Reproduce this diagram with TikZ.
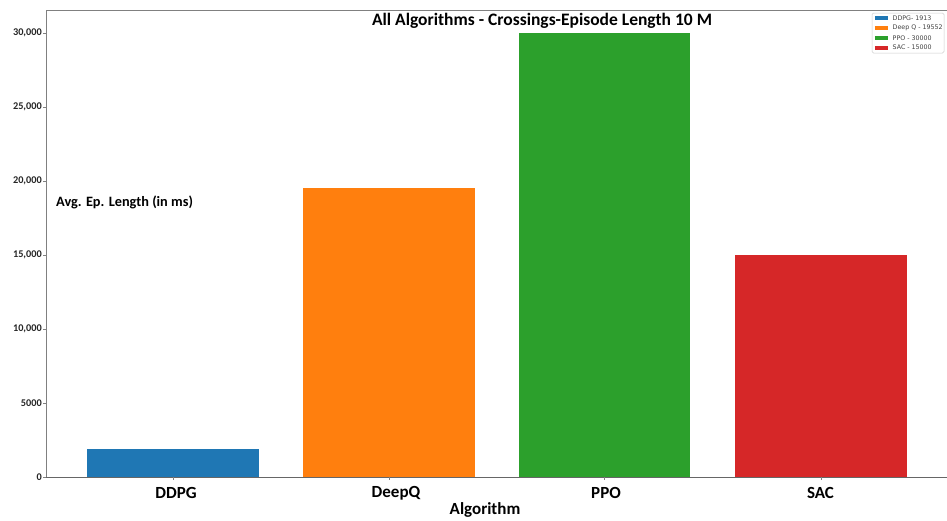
\documentclass[tikz,border=0pt]{standalone}
\usepackage{fontspec}
\setmainfont{Carlito}
\newfontfamily\legfont{DejaVu Sans}
\definecolor{cblue}{HTML}{1F77B4}
\definecolor{corange}{HTML}{FF7F0E}
\definecolor{cgreen}{HTML}{2CA02C}
\definecolor{cred}{HTML}{D62728}
\definecolor{spine}{HTML}{808080}
\begin{document}
\begin{tikzpicture}[x=1pt,y=-1pt,
  ticklab/.style={anchor=east,font=\fontsize{10.3}{11}\selectfont\bfseries,text=black!85,inner sep=0pt},
  catlab/.style={anchor=center,font=\fontsize{17}{19}\selectfont\bfseries,inner sep=0pt},
  legtext/.style={anchor=west,font=\legfont\fontsize{6.3}{7}\selectfont,text=black!75,inner sep=0pt},
  legpatch/.style={inner sep=0pt,minimum width=13pt,minimum height=4pt}]
\useasboundingbox[fill=white] (0,0) rectangle (947,520);
% bars
\fill[cblue]   (87,477)  rectangle (259,448.7);
\fill[corange] (303,477) rectangle (475,187.6);
\fill[cgreen]  (519,477) rectangle (690,33);
\fill[cred]    (735,477) rectangle (907,255);
% spines
\draw[spine,line width=0.8pt] (46,477) -- (46,10) -- (947,10);
\draw[black!60,line width=1pt] (46,477) -- (947,477);
% y ticks
\foreach \v/\lab in {0/0,5/5000,10/{10,000},15/{15,000},20/{20,000},25/{25,000},30/{30,000}}{
  \pgfmathsetmacro{\yy}{477-\v*14.8}
  \draw[spine,line width=0.6pt] (43,\yy) -- (46,\yy);
  \node[ticklab] at (42,\yy) {\lab};
}
% x ticks
\foreach \xx in {173,389,604.5,821}{
  \draw[spine,line width=0.6pt] (\xx,477) -- (\xx,480);
}
\node[catlab] (l1) at (176,493) {DDPG};
\node[catlab] (l2) at (396,493) {DeepQ};
\node[catlab] (l3) at (606,493) {PPO};
\node[catlab] (l4) at (820.5,493) {SAC};
\node[font=\fontsize{17}{19}\selectfont\bfseries,inner sep=0pt] (xl) at (485,509.5) {Algorithm};
\node[font=\fontsize{14.3}{16}\selectfont\bfseries,anchor=west,inner sep=0pt] (yl) at (56,202) {Avg. Ep. Length (in ms)};
\node[font=\fontsize{17.5}{19}\selectfont\bfseries,inner sep=0pt] (title) at (542,21) {All Algorithms - Crossings-Episode Length 10 M};
% legend
\draw[black!20,fill=white,rounded corners=1.5pt,line width=0.5pt] (872,13) rectangle (944,53);
\node[legpatch,fill=cblue]   (p1) at (881,18.3) {};
\node[legpatch,fill=corange] (p2) at (881,28.1) {};
\node[legpatch,fill=cgreen]  (p3) at (881,37.9) {};
\node[legpatch,fill=cred]    (p4) at (881,47.7) {};
\node[legtext] (t1) at (892.5,18.3) {DDPG- 1913};
\node[legtext] (t2) at (892.5,28.1) {Deep Q - 19552};
\node[legtext] (t3) at (892.5,37.9) {PPO - 30000};
\node[legtext] (t4) at (892.5,47.7) {SAC - 15000};
\end{tikzpicture}
\end{document}
